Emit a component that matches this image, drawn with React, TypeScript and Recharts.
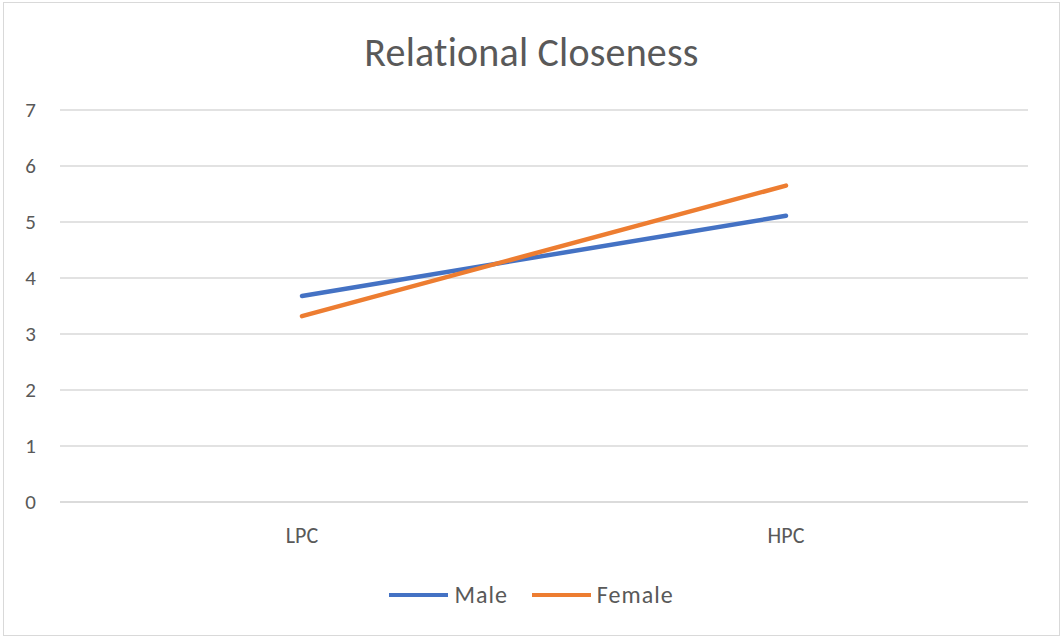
import React from "react";
import { LineChart, Line, XAxis, YAxis, CartesianGrid } from "recharts";

const categories = ["LPC", "HPC"];
const male = [3.68, 5.11];
const female = [3.32, 5.65];
const yTicks = [0, 1, 2, 3, 4, 5, 6, 7];

const data = categories.map((c, i) => ({ name: c, Male: male[i], Female: female[i] }));

const font = "Calibri, Carlito, Lato, 'Open Sans', sans-serif";
const grey = "#595959";

const LegendRow = () => (
  <div
    style={{
      position: "absolute",
      top: 580,
      left: 0,
      width: 1063,
      display: "flex",
      justifyContent: "center",
      fontFamily: font,
      fontSize: 24,
      letterSpacing: 1,
      color: grey,
    }}
  >
    {[
      { label: "Male", color: "#4472C4" },
      { label: "Female", color: "#ED7D31" },
    ].map((s, i) => (
      <div key={s.label} style={{ display: "flex", alignItems: "center", marginLeft: i ? 24 : 0 }}>
        <span style={{ display: "inline-block", width: 59, height: 4, background: s.color, marginRight: 6 }} />
        <span>{s.label}</span>
      </div>
    ))}
  </div>
);

export default function App() {
  return (
    <div style={{ position: "absolute", top: 0, left: 0, width: 1063, height: 639, background: "#fff" }}>
      <div
        style={{
          position: "absolute",
          top: 2,
          left: 3,
          width: 1055,
          height: 632,
          border: "1px solid #d9d9d9",
        }}
      />
      <div
        style={{
          position: "absolute",
          top: 28,
          left: 0,
          width: 1063,
          textAlign: "center",
          fontFamily: font,
          fontSize: 40,
          letterSpacing: 0.2,
          color: grey,
        }}
      >
        Relational Closeness
      </div>
      <LineChart
        width={1063}
        height={639}
        data={data}
        margin={{ top: 110, right: 35, bottom: 77, left: 0 }}
        style={{ position: "absolute", top: 0, left: 0 }}
      >
        <CartesianGrid vertical={false} stroke="#d9d9d9" strokeWidth={1.3} />
        <XAxis
          dataKey="name"
          height={60}
          padding={{ left: 242, right: 242 }}
          axisLine={{ stroke: "#d9d9d9", strokeWidth: 1.3 }}
          tickLine={false}
          tickSize={0}
          tickMargin={25}
          tick={{ fill: grey, fontSize: 22, fontFamily: font }}
        />
        <YAxis
          width={60}
          domain={[0, 7]}
          ticks={yTicks}
          axisLine={false}
          tickLine={false}
          tickSize={0}
          tickMargin={24}
          tick={{ fill: grey, fontSize: 21, fontFamily: font }}
        />
        <Line dataKey="Male" stroke="#4472C4" strokeWidth={4.5} dot={false} isAnimationActive={false} strokeLinecap="round" />
        <Line dataKey="Female" stroke="#ED7D31" strokeWidth={4.5} dot={false} isAnimationActive={false} strokeLinecap="round" />
      </LineChart>
      <LegendRow />
    </div>
  );
}
